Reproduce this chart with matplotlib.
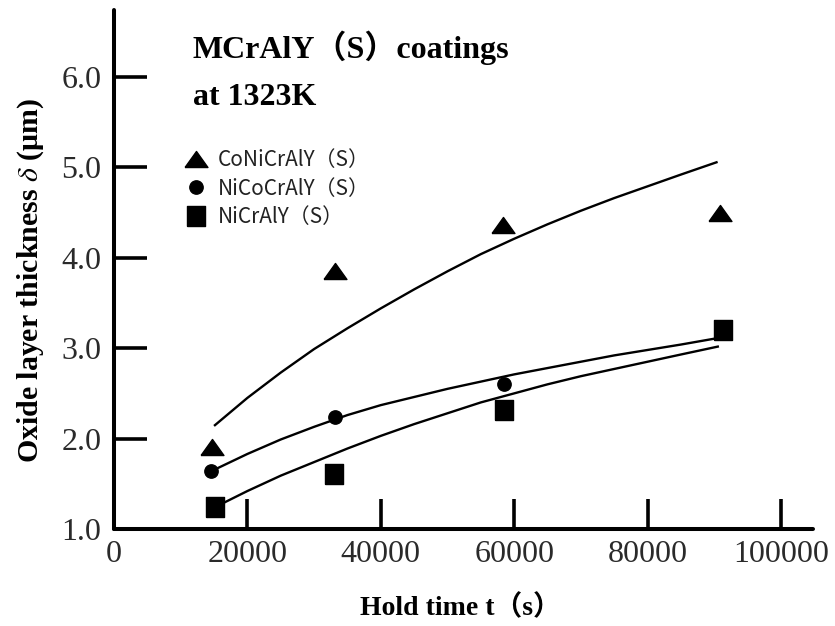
import matplotlib
matplotlib.use('Agg')
import matplotlib.pyplot as plt
from matplotlib.lines import Line2D

plt.rcParams.update({
    'font.family': ['Liberation Serif', 'Noto Sans CJK JP'],
    'mathtext.fontset': 'stix',
})

# Measured oxide thickness (um) vs hold time (s)
t_coni = [14700, 33100, 58300, 90900]
d_coni = [1.91, 3.85, 4.36, 4.50]
t_nico = [14600, 33100, 58500]
d_nico = [1.64, 2.24, 2.60]
t_nicr = [15200, 33000, 58500, 91300]
d_nicr = [1.24, 1.61, 2.32, 3.20]

# Fitted growth curves
fit_t_coni = [15000, 20000, 25000, 30000, 35000, 40000, 45000, 50000,
              55000, 60000, 65000, 70000, 75000, 80000, 85000, 90500]
fit_d_coni = [2.14, 2.45, 2.73, 2.99, 3.22, 3.44, 3.65, 3.85,
              4.04, 4.21, 4.37, 4.52, 4.66, 4.79, 4.92, 5.06]
fit_t_nico = [14600, 20000, 25000, 30000, 35000, 40000, 45000, 50000,
              55000, 60000, 65000, 70000, 75000, 80000, 85000, 90400]
fit_d_nico = [1.64, 1.83, 1.99, 2.13, 2.26, 2.37, 2.46, 2.55,
              2.63, 2.71, 2.78, 2.85, 2.92, 2.98, 3.04, 3.11]
fit_t_nicr = [15100, 20000, 25000, 30000, 35000, 40000, 45000, 50000,
              55000, 60000, 65000, 70000, 75000, 80000, 85000, 90700]
fit_d_nicr = [1.24, 1.42, 1.59, 1.74, 1.89, 2.03, 2.16, 2.28,
              2.40, 2.50, 2.60, 2.69, 2.77, 2.85, 2.93, 3.02]

labels = ['CoNiCrAlY（S）', 'NiCoCrAlY（S）', 'NiCrAlY（S）']
x_ticks = [0, 20000, 40000, 60000, 80000, 100000]
y_ticks = [1.0, 2.0, 3.0, 4.0, 5.0, 6.0]

# flattened triangle and slightly tall square
tri = [(-1, -0.7), (1, -0.7), (0, 0.7), (-1, -0.7)]
sq = [(-0.9, -1), (0.9, -1), (0.9, 1), (-0.9, 1), (-0.9, -1)]

fig = plt.figure(figsize=(8.35, 6.26), dpi=100)
ax = fig.add_axes([114 / 835, 1 - 529 / 626, 699 / 835, 519 / 626])

for ft, fd in [(fit_t_coni, fit_d_coni), (fit_t_nico, fit_d_nico), (fit_t_nicr, fit_d_nicr)]:
    ax.plot(ft, fd, color='black', lw=1.7, zorder=2, solid_capstyle='butt',
            solid_joinstyle='round')

ax.plot(t_coni, d_coni, ls='none', marker=tri, ms=16.5, color='black', zorder=3)
ax.plot(t_nico, d_nico, ls='none', marker='o', ms=9.6, color='black', zorder=3)
ax.plot(t_nicr, d_nicr, ls='none', marker=sq, ms=14.4, color='black', zorder=3)

ax.set_xlim(0, 104800)
ax.set_ylim(1.0, 6.74)
ax.set_xticks(x_ticks)
ax.set_xticklabels([str(v) for v in x_ticks])
ax.set_yticks(y_ticks)
ax.set_yticklabels(['%.1f' % v for v in y_ticks])

for s in ['top', 'right']:
    ax.spines[s].set_visible(False)
for s in ['left', 'bottom']:
    ax.spines[s].set_linewidth(2.9)
    ax.spines[s].set_capstyle('round')

ax.tick_params(axis='x', direction='in', length=21.5, width=2.6, pad=8,
               labelsize=23, labelcolor='#2a2a2a')
ax.tick_params(axis='y', direction='in', length=24, width=2.6, pad=9,
               labelsize=23, labelcolor='#2a2a2a')

ax.set_xlabel('Hold time t（s）', fontsize=20, fontweight='bold')
ax.xaxis.set_label_coords(0.495, -0.127)
ax.set_ylabel(r'Oxide layer thickness $\delta$ (μm)', fontsize=21.5, fontweight='bold')
ax.yaxis.set_label_coords(-0.097, 0.478)

ax.text(0.113, 0.9075, 'MCrAlY（S）coatings', transform=ax.transAxes,
        fontsize=23, fontweight='bold', va='baseline', ha='left')
ax.text(0.113, 0.817, 'at 1323K', transform=ax.transAxes,
        fontsize=23, fontweight='bold', va='baseline', ha='left')

handles = [
    Line2D([0], [0], ls='none', marker=tri, ms=16.5, color='black'),
    Line2D([0], [0], ls='none', marker='o', ms=9.6, color='black'),
    Line2D([0], [0], ls='none', marker=sq, ms=14.4, color='black'),
]
leg = ax.legend(handles, labels, loc='upper left', bbox_to_anchor=(0.09, 0.748),
                frameon=False, handlelength=1.0, handletextpad=0.55,
                labelspacing=0.32, borderaxespad=0,
                prop={'family': 'Noto Sans CJK JP', 'size': 15})
for txt in leg.get_texts():
    txt.set_color('#222222')

fig.savefig('out.png', dpi=100)
